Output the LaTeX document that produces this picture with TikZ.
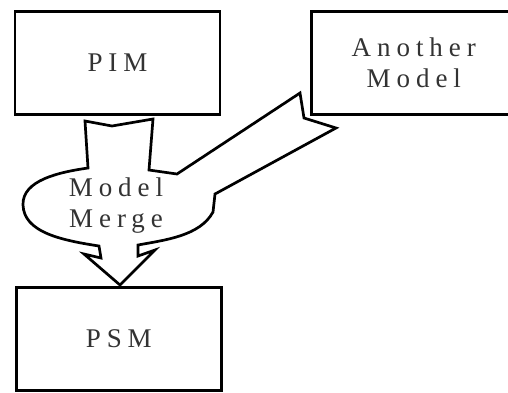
\documentclass[tikz,border=0pt]{standalone}
\usepackage{fontspec}
\setmainfont{Liberation Serif}
\usepackage{tikz}
\usetikzlibrary{positioning}
\newcommand{\modelfont}{\fontsize{27}{31}\selectfont\addfontfeature{LetterSpace=22}}

\begin{document}
\begin{tikzpicture}[x=1pt,y=-1pt]
  \tikzset{model/.style = {shape=rectangle,draw,line width=2.7pt,minimum width=205pt,minimum height=103pt,inner sep=1pt,font=\modelfont,text=black!80,align=center}}
  \tikzset{merge/.style = {draw,line width=2.7pt,line join=miter,fill=white}}

  \useasboundingbox (0,0) rectangle (508,392);
  \clip (0,0) rectangle (508,392);

	\node[model] (PIM) at (117.5,63) {PIM};
	\node[model] (AM) at (413.8,63) {Another\\Model};
	\node[model] (PSM) at (118.8,338.8) {PSM};

	% merge arrow
	\draw[merge] (85,121) -- (112,126) -- (153,119) -- (149,170) -- (177,174)
	  -- (300,93) -- (304,118) -- (336,128) -- (215,194) -- (213,212)
	  .. controls (200,236) and (165,240) .. (138,245) -- (138,256) -- (155,250)
	  -- (120,285) -- (84,254) -- (101,258) -- (99,246)
	  .. controls (60,240) and (24,232) .. (23,205)
	  .. controls (22,180) and (60,172) .. (88,168) -- cycle;
	\node[font=\modelfont,text=black!80,align=center] (MM) at (116,206) {Model\\Merge};

\end{tikzpicture}
\end{document}
